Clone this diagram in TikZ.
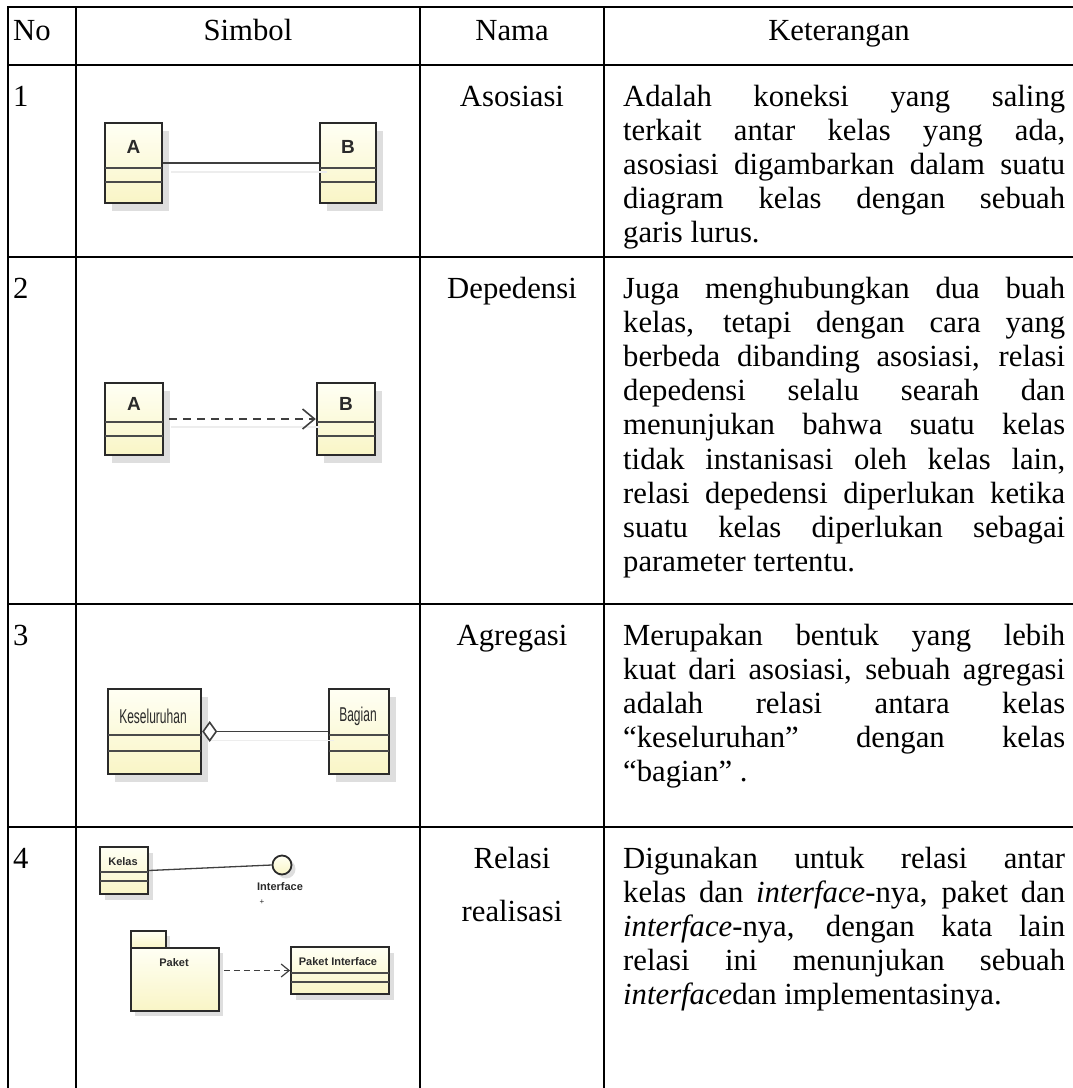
\documentclass[tikz,border=0pt]{standalone}
\usepackage{fontspec}
\setmainfont{Liberation Serif}
\newfontfamily\umlsans{Liberation Sans}
\newfontfamily\umlnarrow[FakeStretch=0.6]{Liberation Sans}
\usetikzlibrary{arrows.meta}
\definecolor{umltop}{HTML}{FFFFF4}
\definecolor{umlbot}{HTML}{F9F5C6}
\definecolor{umlshadow}{HTML}{DEDEDE}
\definecolor{umlink}{HTML}{2A2A2A}
% one justified line of a table cell
\newcommand\jline[1]{\makebox[\linewidth][s]{#1}\\}
\newcommand\bodyfont{\fontsize{30.7}{34.2}\selectfont}

\begin{document}
\begin{tikzpicture}[x=1pt,y=-1pt,
  tablerule/.style={line width=2.2pt, line cap=rect},
  thinrule/.style={line width=1.3pt},
  celltext/.style={inner sep=0pt, anchor=base west},
  centertext/.style={inner sep=0pt, anchor=base},
  classbox/.style={draw=umlink, line width=2.4pt, top color=umltop, bottom color=umlbot, inner sep=0pt},
  smallbox/.style={classbox, line width=1.8pt},
  drop/.style={fill=umlshadow},
  compline/.style={draw=umlink!85, line width=1.5pt},
  smallcomp/.style={draw=umlink!85, line width=1.1pt},
  assoc/.style={draw=umlink!90, line width=1.6pt},
  depend/.style={assoc, dash pattern=on 8pt off 6pt, -{Straight Barb[length=12pt,width=20pt,line width=1.6pt]}},
  smalldepend/.style={assoc, line width=1.2pt, dash pattern=on 6pt off 4pt, -{Straight Barb[length=8pt,width=13pt,line width=1.2pt]}},
  lineshadow/.style={draw=black!7, line width=1.6pt},
  bigclass/.style={font=\umlsans\bfseries\fontsize{19}{19}\selectfont, text=umlink, inner sep=0pt},
  narrowclass/.style={font=\umlnarrow\fontsize{20}{20}\selectfont, text=umlink, inner sep=0pt},
  smallclass/.style={font=\umlsans\bfseries\fontsize{11}{11}\selectfont, text=umlink, inner sep=0pt}
]
\useasboundingbox (0,0) rectangle (1073,1088);

% ---------- table rules ----------
\draw[tablerule] (8,7) -- (1075,7);
\draw[tablerule] (8,65) -- (1075,65);
\draw[tablerule] (8,257) -- (1075,257);
\draw[tablerule] (8,604) -- (1075,604);
\draw[tablerule] (8,827) -- (92,827);
\draw[thinrule] (92,827) -- (400,827);
\draw[tablerule] (400,827) -- (1075,827);
\foreach \cx in {8,76,420,604} \draw[tablerule] (\cx,7) -- (\cx,1090);

% ---------- header ----------
\node[celltext] (hno) at (13,40) {\bodyfont No};
\node[centertext] (hsym) at (248,40) {\bodyfont Simbol};
\node[centertext] (hname) at (512,40) {\bodyfont Nama};
\node[centertext] (hdesc) at (839,40) {\bodyfont Keterangan};

% ---------- numbers ----------
\node[celltext] (n1) at (13,106) {\bodyfont 1};
\node[celltext] (n2) at (13,298) {\bodyfont 2};
\node[celltext] (n3) at (13,645) {\bodyfont 3};
\node[celltext] (n4) at (13,868) {\bodyfont 4};

% ---------- names ----------
\node[centertext] (m1) at (512,106) {\bodyfont Asosiasi};
\node[centertext] (m2) at (512,298) {\bodyfont Depedensi};
\node[centertext] (m3) at (512,645) {\bodyfont Agregasi};
\node[centertext] (m4) at (512,868) {\parbox[t]{170pt}{\centering\bodyfont Relasi\\[19pt]realisasi}};

% ---------- descriptions ----------
\node[celltext] (d1) at (623,106) {\parbox[t]{442pt}{\bodyfont
  \jline{Adalah koneksi yang saling}
  \jline{terkait antar kelas yang ada,}
  \jline{asosiasi digambarkan dalam suatu}
  \jline{diagram kelas dengan sebuah}
  garis lurus.}};
\node[celltext] (d2) at (623,298) {\parbox[t]{442pt}{\bodyfont
  \jline{Juga menghubungkan dua buah}
  \jline{kelas, tetapi dengan cara yang}
  \jline{berbeda dibanding asosiasi, relasi}
  \jline{depedensi selalu searah dan}
  \jline{menunjukan bahwa suatu kelas}
  \jline{tidak instanisasi oleh kelas lain,}
  \jline{relasi depedensi diperlukan ketika}
  \jline{suatu kelas diperlukan sebagai}
  parameter tertentu.}};
\node[celltext] (d3) at (623,645) {\parbox[t]{442pt}{\bodyfont
  \jline{Merupakan bentuk yang lebih}
  \jline{kuat dari asosiasi, sebuah agregasi}
  \jline{adalah relasi antara kelas}
  \jline{“keseluruhan” dengan kelas}
  “bagian” .}};
\node[celltext] (d4) at (623,868) {\parbox[t]{442pt}{\bodyfont
  \jline{Digunakan untuk relasi antar}
  \jline{kelas dan \textit{interface}-nya, paket dan}
  \jline{\textit{interface}-nya, dengan kata lain}
  \jline{relasi ini menunjukan sebuah}
  \textit{interface}dan implementasinya.}};

% ---------- row 1: association ----------
\fill[drop] (112,131) rectangle (169,211);
\fill[drop] (327,131) rectangle (383,211);
\node[classbox, minimum width=57pt, minimum height=80pt] (a1) at (133.5,163) {};
\node[classbox, minimum width=56pt, minimum height=80pt] (b1) at (348,163) {};
\draw[compline] (105,168) -- (162,168) (105,182) -- (162,182);
\draw[compline] (320,168) -- (376,168) (320,182) -- (376,182);
\node[bigclass] (ta1) at (133.5,147) {A};
\node[bigclass] (tb1) at (348,147) {B};
\draw[lineshadow] ([xshift=8pt,yshift=-9pt]a1.east) -- ([xshift=8pt,yshift=-9pt]b1.west);
\draw[assoc] (a1.east) -- (b1.west);

% ---------- row 2: dependency ----------
\fill[drop] (112,391) rectangle (170,463);
\fill[drop] (324,391) rectangle (382,463);
\node[classbox, minimum width=58pt, minimum height=72pt] (a2) at (134,419) {};
\node[classbox, minimum width=58pt, minimum height=72pt] (b2) at (346,419) {};
\draw[compline] (105,422) -- (163,422) (105,436) -- (163,436);
\draw[compline] (317,422) -- (375,422) (317,436) -- (375,436);
\node[bigclass] (ta2) at (134,404) {A};
\node[bigclass] (tb2) at (346,404) {B};
\draw[lineshadow] ([xshift=7pt,yshift=-8pt]a2.east) -- ([xshift=4pt,yshift=-8pt]b2.west);
\draw[depend] ([xshift=5pt]a2.east) -- (b2.west);

% ---------- row 3: aggregation ----------
\fill[drop] (115,697) rectangle (208,782);
\fill[drop] (336,697) rectangle (396,782);
\node[classbox, minimum width=93pt, minimum height=85pt] (whole) at (154.5,731.5) {};
\node[classbox, minimum width=60pt, minimum height=85pt] (part) at (359,731.5) {};
\draw[compline] (108,735) -- (201,735) (108,751) -- (201,751);
\draw[compline] (329,735) -- (389,735) (329,751) -- (389,751);
\node[narrowclass] (twhole) at (153,716) {Keseluruhan};
\node[narrowclass] (tpart) at (358,716) {Bagian};
\draw[lineshadow] ([xshift=8pt,yshift=-9pt]whole.east) -- ([xshift=6pt,yshift=-9pt]part.west);
\draw[assoc, {Diamond[open,length=15pt,width=21pt,line width=1.6pt,fill=white]}-] (whole.east) -- (part.west);

% ---------- row 4: realization ----------
\fill[drop] (105,853) rectangle (153,900);
\fill[drop] (286,869) circle[radius=9.5];
\fill[drop] (135,936) rectangle (170,953);
\fill[drop] (135,953) rectangle (223,1016);
\fill[drop] (296,953) rectangle (394,1000);
\node[smallbox, minimum width=48pt, minimum height=47pt] (kelas) at (124,870.5) {};
\draw[smallcomp] (100,872) -- (148,872) (100,881) -- (148,881);
\node[smallclass] (tkelas) at (123,862) {Kelas};
\node[smallbox, circle, minimum size=19pt] (iface) at (282,865) {};
\node[smallclass] (tiface) at (280,887) {Interface};
\node[inner sep=0pt, text=umlink, font=\umlsans\fontsize{8}{8}\selectfont] (plus) at (262,902) {+};
\draw[assoc, line width=1.3pt] (kelas.east) -- (iface.west);
\node[smallbox, minimum width=35pt, minimum height=17pt] (tab) at (148.5,939.5) {};
\node[smallbox, minimum width=88pt, minimum height=63pt] (paket) at (175,979.5) {};
\node[smallclass] (tpaket) at (174,963) {Paket};
\node[smallbox, minimum width=98pt, minimum height=47pt] (pint) at (340,970.5) {};
\draw[smallcomp] (291,973) -- (389,973) (291,982) -- (389,982);
\node[smallclass] (tpint) at (338,962) {Paket Interface};
\draw[smalldepend] ([xshift=4pt]paket.east |- pint.west) -- (pint.west);
\end{tikzpicture}
\end{document}
